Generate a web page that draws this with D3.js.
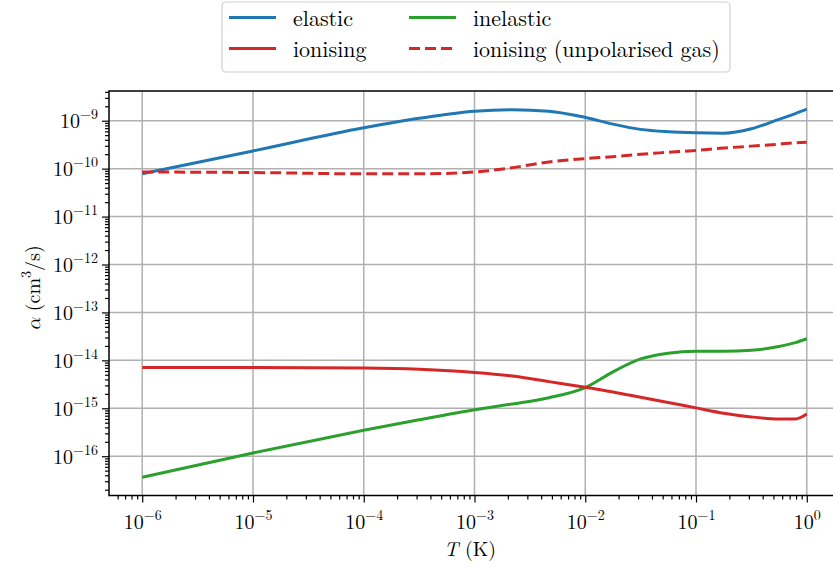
<!DOCTYPE html>
<html>
<head>
<meta charset="utf-8">
<script src="https://cdn.jsdelivr.net/npm/d3@7"></script>
<style>
    body { margin: 0; background: #fff; }
    svg { display: block; }
</style>
</head>
<body>
<svg id="chart" width="833" height="567"></svg>
<script>
// temperatures (K) shared by all the curves
const temps = [1e-6, 1e-5, 1e-4, 3.16e-4, 1e-3, 2.2e-3, 4.7e-3, 1e-2, 1.78e-2, 3.16e-2,
    5.6e-2, 1e-1, 1.78e-1, 3.16e-1, 5.6e-1, 7.9e-1, 1];

// rate coefficients alpha (cm^3/s)
const elastic = [7.8e-11, 2.34e-10, 7.1e-10, 1.12e-9, 1.58e-9, 1.70e-9, 1.58e-9, 1.17e-9, 8.5e-10,
    6.6e-10, 5.9e-10, 5.6e-10, 5.5e-10, 6.8e-10, 1.07e-9, 1.41e-9, 1.74e-9];
const inelastic = [3.63e-17, 1.17e-16, 3.47e-16, 5.75e-16, 9.3e-16, 1.23e-15, 1.66e-15, 2.69e-15,
    5.75e-15, 1.07e-14, 1.41e-14, 1.55e-14, 1.55e-14, 1.62e-14, 1.95e-14, 2.34e-14, 2.82e-14];
const ionising = [7.1e-15, 7.1e-15, 6.9e-15, 6.5e-15, 5.6e-15, 4.7e-15, 3.6e-15, 2.75e-15, 2.19e-15,
    1.70e-15, 1.32e-15, 1.02e-15, 7.9e-16, 6.6e-16, 6.0e-16, 6.0e-16, 7.6e-16];
const ionisingUnpol = [8.5e-11, 8.3e-11, 7.8e-11, 7.8e-11, 8.5e-11, 1.05e-10, 1.38e-10, 1.62e-10,
    1.78e-10, 2.0e-10, 2.19e-10, 2.4e-10, 2.69e-10, 2.95e-10, 3.24e-10, 3.47e-10, 3.55e-10];

const seriesNames = ["elastic", "inelastic", "ionising", "ionising (unpolarised gas)"];
const seriesColors = ["#1f77b4", "#2ca02c", "#d62728", "#d62728"];
const seriesValues = [elastic, inelastic, ionising, ionisingUnpol];

const xTickExps = [-6, -5, -4, -3, -2, -1, 0];
const yTickExps = [-16, -15, -14, -13, -12, -11, -10, -9];

function drawChart() {
    let canvas = d3.select("#chart");
    let left = 109, right = 840, plotTop = 91, bottom = 495.5;
    let font = "'Latin Modern Roman', 'Liberation Serif', serif";

    let x = d3.scaleLog()
        .domain([Math.pow(10, -6.3), Math.pow(10, 0.3)])
        .range([left, right]);
    let y = d3.scaleLog()
        .domain([Math.pow(10, -16.82), Math.pow(10, -8.38)])
        .range([bottom, plotTop]);

    // minor tick positions, 2..9 x 10^k
    function minors(lo, hi, scale) {
        let out = [];
        let d = scale.domain();
        for (let k = lo; k <= hi; k++) {
            for (let m = 2; m <= 9; m++) {
                let v = m * Math.pow(10, k);
                if (v > d[0] && v < d[1]) out.push(v);
            }
        }
        return out;
    }

    // grid
    canvas.append("g")
        .selectAll("line")
        .data(xTickExps)
        .enter().append("line")
        .attr("x1", d => x(Math.pow(10, d))).attr("x2", d => x(Math.pow(10, d)))
        .attr("y1", plotTop).attr("y2", bottom)
        .attr("stroke", "#b0b0b0").attr("stroke-width", 1.5);
    canvas.append("g")
        .selectAll("line")
        .data(yTickExps)
        .enter().append("line")
        .attr("y1", d => y(Math.pow(10, d))).attr("y2", d => y(Math.pow(10, d)))
        .attr("x1", left).attr("x2", right)
        .attr("stroke", "#b0b0b0").attr("stroke-width", 1.5);

    // curves
    let line = d3.line()
        .x((d, i) => x(temps[i]))
        .y(d => y(d))
        .curve(d3.curveMonotoneX);

    seriesValues.forEach((vals, i) => {
        canvas.append("path")
            .datum(vals)
            .attr("fill", "none")
            .attr("stroke", seriesColors[i])
            .attr("stroke-width", 3)
            .attr("stroke-dasharray", i == 3 ? "11,5" : null)
            .attr("d", line);
    });

    // axes
    function expLabel(sel) {
        sel.each(function(d) {
            let t = d3.select(this);
            let e = Math.round(Math.log10(d));
            t.text("");
            t.append("tspan").text("10");
            t.append("tspan").attr("dy", -9).attr("font-size", 14)
                .text(e < 0 ? "\u2212" + (-e) : "" + e);
        });
    }

    let xAxis = d3.axisBottom(x)
        .tickValues(xTickExps.map(e => Math.pow(10, e)))
        .tickSize(7).tickPadding(10)
        .tickFormat(d => d);
    let gx = canvas.append("g")
        .attr("transform", "translate(0," + bottom + ")")
        .call(xAxis);
    gx.selectAll(".tick text").attr("font-size", 20)
        .attr("fill", "#000").attr("dy", null).attr("y", 33).call(expLabel);
    canvas.append("g")
        .attr("transform", "translate(0," + bottom + ")")
        .call(d3.axisBottom(x).tickValues(minors(-7, 0, x)).tickSize(4).tickFormat(""));

    let yAxis = d3.axisLeft(y)
        .tickValues(yTickExps.map(e => Math.pow(10, e)))
        .tickSize(7).tickPadding(4)
        .tickFormat(d => d);
    let gy = canvas.append("g")
        .attr("transform", "translate(" + left + ",0)")
        .call(yAxis);
    gy.selectAll(".tick text").attr("font-size", 20)
        .attr("fill", "#000").attr("dy", 7).call(expLabel);
    canvas.append("g")
        .attr("transform", "translate(" + left + ",0)")
        .call(d3.axisLeft(y).tickValues(minors(-17, -9, y)).tickSize(4).tickFormat(""));

    canvas.selectAll(".domain").remove();
    canvas.selectAll(".tick line").attr("stroke", "#000").attr("stroke-width", 1.2);

    // spines (left, bottom, top)
    canvas.append("path")
        .attr("d", "M" + right + "," + plotTop + "H" + left + "V" + bottom + "H" + right)
        .attr("fill", "none").attr("stroke", "#000").attr("stroke-width", 1.5);

    // axis labels
    let xl = canvas.append("text")
        .attr("x", 470).attr("y", 556)
        .attr("text-anchor", "middle")
        .attr("font-size", 20);
    xl.append("tspan").attr("font-style", "italic").text("T");
    xl.append("tspan").text(" (K)");

    let yl = canvas.append("text")
        .attr("transform", "translate(40,288) rotate(-90)")
        .attr("text-anchor", "middle")
        .attr("font-size", 20);
    yl.append("tspan").attr("class", "greek").attr("font-style", "italic").text("\u03b1");
    yl.append("tspan").text(" (cm");
    yl.append("tspan").attr("dy", -9).attr("font-size", 14).text("3");
    yl.append("tspan").attr("dy", 9).text("/s)");

    // legend
    let legend = canvas.append("g");
    legend.append("rect")
        .attr("x", 222).attr("y", 2).attr("width", 508).attr("height", 70)
        .attr("rx", 4)
        .attr("fill", "#fff").attr("fill-opacity", 0.8)
        .attr("stroke", "#d0d0d0").attr("stroke-width", 1.2);

    let legendPos = [[229, 17.5], [409, 17.5], [229, 48.5], [409, 48.5]];
    seriesNames.forEach((name, i) => {
        let p = legendPos[i];
        legend.append("line")
            .attr("x1", p[0]).attr("x2", p[0] + 47)
            .attr("y1", p[1]).attr("y2", p[1])
            .attr("stroke", seriesColors[i]).attr("stroke-width", 3)
            .attr("stroke-dasharray", i == 3 ? "11,5" : null);
        legend.append("text")
            .attr("x", p[0] + 64).attr("y", p[1] + 8.5)
            .attr("font-size", 22)
            .text(name);
    });

    canvas.selectAll("text").style("font-family", font);
    canvas.selectAll("tspan.greek").style("font-family", "'Latin Modern Math', 'DejaVu Serif', serif");
}

drawChart();
</script>
</body>
</html>
